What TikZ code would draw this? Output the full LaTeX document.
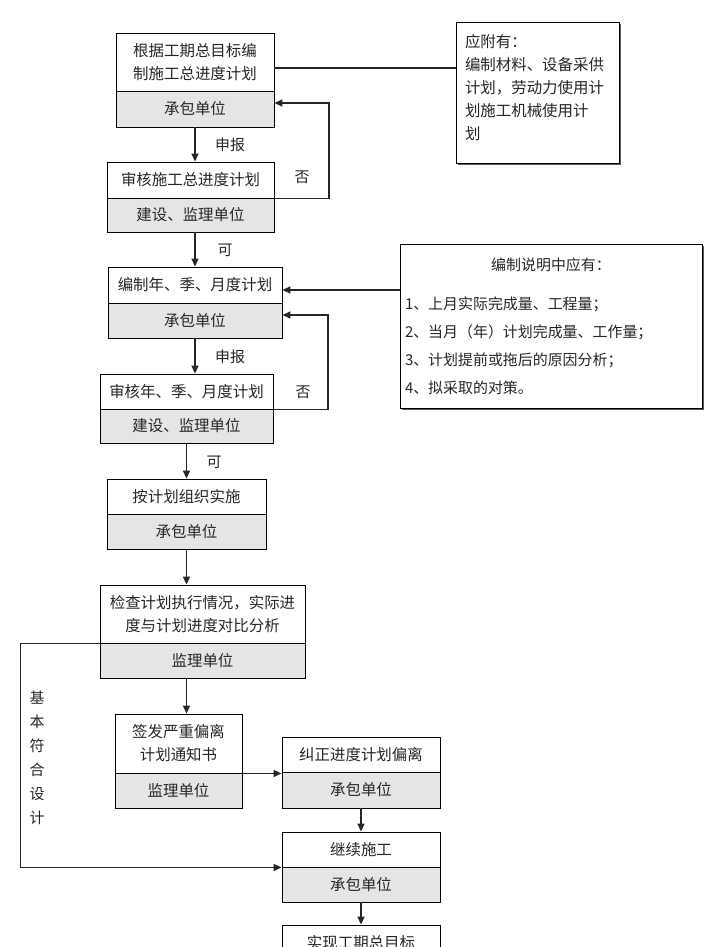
\documentclass[tikz,border=0pt]{standalone}
\usepackage{fontspec}
\setmainfont{Noto Sans CJK SC}
\usetikzlibrary{arrows.meta,shadows}

\tikzset{
    upper/.style={draw, line width=0.9bp, fill=white, align=center, inner sep=0pt,
        text=black!85, font=\fontsize{15.5}{23}\selectfont},
    lower/.style={upper, fill=gray!20},
    note/.style={draw, line width=1bp, fill=white, inner sep=0pt, align=left,
        text=black!85, font=\fontsize{15.5}{23}\selectfont,
        drop shadow={shadow xshift=2bp, shadow yshift=-2bp, fill=black!65, opacity=1}},
    tag/.style={text=black!85, font=\fontsize{15}{24}\selectfont},
    link/.style={line width=1.6bp, black!85},
    arr/.style={link, -{Triangle[length=8bp,width=7bp]}},
}

\begin{document}
\begin{tikzpicture}[x=1bp, y=-1bp]
    \useasboundingbox (0,0) rectangle (720,947);

    % Общий график
    \node[upper, minimum width=158bp, minimum height=58bp] (p1) at (195,62) {根据工期总目标编\\制施工总进度计划};
    \node[lower, minimum width=158bp, minimum height=36bp] (u1) at (195,109) {承包单位};
    \node[upper, minimum width=167bp, minimum height=36bp] (p2) at (190.5,180) {审核施工总进度计划};
    \node[lower, minimum width=167bp, minimum height=34bp] (u2) at (190.5,215) {建设、监理单位};

    % Годовой, квартальный, месячный
    \node[upper, minimum width=174bp, minimum height=36bp] (p3) at (195,285) {编制年、季、月度计划};
    \node[lower, minimum width=174bp, minimum height=35bp] (u3) at (195,320.5) {承包单位};
    \node[upper, minimum width=173bp, minimum height=35bp] (p4) at (186.5,391.5) {审核年、季、月度计划};
    \node[lower, minimum width=173bp, minimum height=34bp] (u4) at (186.5,426) {建设、监理单位};

    % Выполнение и проверка
    \node[upper, minimum width=159bp, minimum height=35bp] (p5) at (186.5,496.5) {按计划组织实施};
    \node[lower, minimum width=159bp, minimum height=35bp] (u5) at (186.5,531.5) {承包单位};
    \node[upper, minimum width=205bp, minimum height=58bp] (p6) at (202.5,614) {检查计划执行情况，实际进\\度与计划进度对比分析};
    \node[lower, minimum width=205bp, minimum height=35bp] (u6) at (202.5,660.5) {监理单位};
    \node[upper, minimum width=127bp, minimum height=59bp] (p7) at (178.5,743.5) {签发严重偏离\\计划通知书};
    \node[lower, minimum width=127bp, minimum height=35bp] (u7) at (178.5,790.5) {监理单位};

    % Правая колонка
    \node[upper, minimum width=158bp, minimum height=35bp] (p8) at (361,754.5) {纠正进度计划偏离};
    \node[lower, minimum width=158bp, minimum height=36bp] (u8) at (361,790) {承包单位};
    \node[upper, minimum width=158bp, minimum height=35bp] (p9) at (361,849.5) {继续施工};
    \node[lower, minimum width=158bp, minimum height=35bp] (u9) at (361,884.5) {承包单位};
    \node[upper, minimum width=158bp, minimum height=35bp] (p10) at (361,942.5) {实现工期总目标};

    % Примечания
    \node[note, minimum width=163bp, minimum height=141bp, text width=145bp] (n1) at (537.5,92.5)
        {应附有：\\编制材料、设备采供\\计划，劳动力使用计\\划施工机械使用计\\划\\[-12bp]\mbox{}};
    \node[note, minimum width=302bp, minimum height=164bp, text width=292bp,
        font=\fontsize{15}{28}\selectfont] (n2) at (551,326)
        {\makebox[292bp][c]{编制说明中应有：}\\[11bp]
         1、上月实际完成量、工程量；\\
         2、当月（年）计划完成量、工作量；\\
         3、计划提前或拖后的原因分析；\\
         4、拟采取的对策。};

    % Подписи
    \node[tag] (s1) at (230,145) {申报};
    \node[tag] (f1) at (302,177) {否};
    \node[tag] (k1) at (225,250) {可};
    \node[tag] (s2) at (230,357) {申报};
    \node[tag] (f2) at (303,392) {否};
    \node[tag] (k2) at (214,462) {可};
    \node[tag, align=center] (jb) at (37,758) {基\\本\\符\\合\\设\\计};

    % Стрелки
    \coordinate (c1) at (0,68);
    \coordinate (c2) at (0,290);
    \coordinate (r1) at (329,103);
    \coordinate (r2) at (328,315);
    \draw[link] (p1.east |- c1) -- (n1.west |- c1);
    \draw[arr] (n2.west |- c2) -- (p3.east |- c2);
    \draw[arr] (u1.south) -- (u1.south |- p2.north);
    \draw[arr] (p2.south east) -| (r1) -- (r1 -| u1.east);
    \draw[arr] (u2.south -| p3.north) -- (p3.north);
    \draw[arr] (u3.south) -- (u3.south |- p4.north);
    \draw[arr] (p4.south east) -| (r2) -- (r2 -| u3.east);
    \draw[arr] (u4.south) -- (p5.north);
    \draw[arr] (u5.south) -- (u5.south |- p6.north);
    \draw[arr] (u6.south -| u5.south) -- (p7.north -| u5.south);
    \draw[arr] (p6.south west) -- ++(-79,0) |- (p9.south west);
    \draw[arr] (p7.south east) -- (p7.south east -| p8.west);
    \draw[arr] (u8.south) -- (p9.north);
    \draw[arr] (u9.south) -- (p10.north);

\end{tikzpicture}
\end{document}
